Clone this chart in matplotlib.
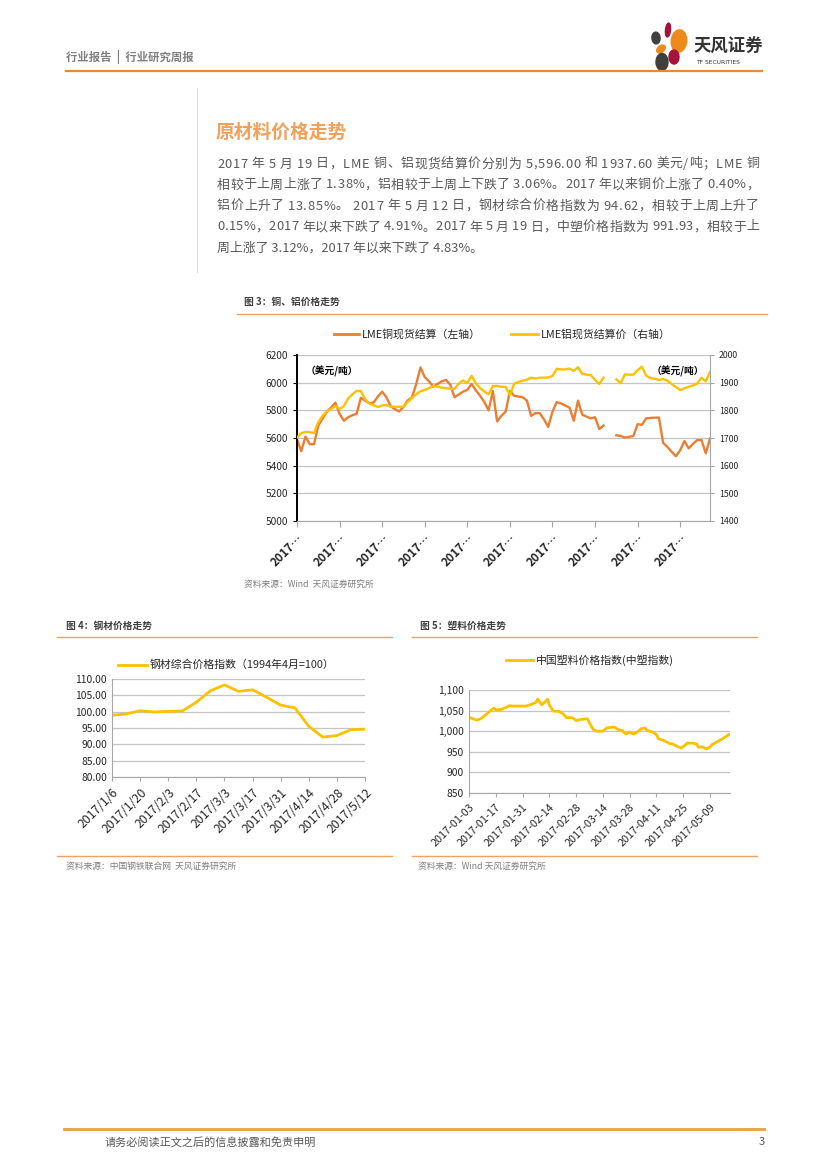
import matplotlib
matplotlib.use('Agg')
import matplotlib.pyplot as plt
import matplotlib.ticker as mticker
from matplotlib.lines import Line2D
from matplotlib.patches import Ellipse
import numpy as np
import pandas as pd

plt.rcParams['font.family'] = ['Noto Sans CJK SC', 'DejaVu Sans']

W, H = 827, 1169

# ---- figure 3: LME copper (left axis) / aluminium (right axis), daily ----
nan = np.nan
copper = [5590, 5505, 5610, 5555, 5555, 5690, 5740, 5790, 5820, 5855,
          5775, 5725, 5750, 5765, 5775, 5890, 5870, 5850, 5857, 5900,
          5935, 5895, 5830, 5808, 5792, 5825, 5872, 5895, 5990, 6110,
          6040, 6010, 5972, 5990, 6010, 6020, 5985, 5895, 5915, 5935,
          5948, 5990, 5945, 5905, 5860, 5800, 5940, 5720, 5760, 5790,
          5940, 5905, 5900, 5895, 5870, 5760, 5780, 5780, 5735, 5680,
          5790, 5860, 5850, 5835, 5820, 5725, 5870, 5768, 5755, 5742,
          5750, 5665, 5690, nan, nan, 5620, 5615, 5603, 5608, 5615,
          5700, 5695, 5742, 5745, 5747, 5748, 5565, 5535, 5500, 5468,
          5512, 5578, 5525, 5558, 5585, 5585, 5490, 5596]
aluminum = [1701, 1718, 1722, 1721, 1718, 1757, 1780, 1795, 1805, 1815,
            1805, 1815, 1843, 1858, 1870, 1870, 1840, 1825, 1818, 1812,
            1818, 1819, 1813, 1813, 1813, 1813, 1830, 1845, 1858, 1869,
            1874, 1880, 1888, 1885, 1882, 1880, 1878, 1878, 1897, 1908,
            1898, 1925, 1898, 1880, 1868, 1858, 1888, 1888, 1885, 1885,
            1855, 1896, 1903, 1907, 1911, 1918, 1915, 1918, 1918, 1919,
            1924, 1950, 1948, 1948, 1951, 1942, 1956, 1932, 1929, 1927,
            1910, 1895, 1918, nan, nan, 1912, 1898, 1930, 1929, 1929,
            1945, 1958, 1925, 1917, 1914, 1910, 1913, 1907, 1895, 1884,
            1873, 1880, 1885, 1890, 1897, 1918, 1905, 1938]
metal_ticklabel = '2017…'

# ---- figure 4: steel composite price index, weekly ----
steel_dates = ['2017/1/6', '2017/1/13', '2017/1/20', '2017/1/27', '2017/2/3',
               '2017/2/10', '2017/2/17', '2017/2/24', '2017/3/3', '2017/3/10',
               '2017/3/17', '2017/3/24', '2017/3/31', '2017/4/7', '2017/4/14',
               '2017/4/21', '2017/4/28', '2017/5/5', '2017/5/12']
steel_index = [98.9, 99.3, 100.3, 99.9, 100.1, 100.2, 102.9, 106.4, 108.2, 106.2,
               106.7, 104.4, 102.0, 101.2, 95.5, 92.2, 92.7, 94.48, 94.62]

# ---- figure 5: China plastics price index ----
plastic_dates = ['2017-01-03', '2017-01-05', '2017-01-07', '2017-01-09', '2017-01-11',
                 '2017-01-12', '2017-01-14', '2017-01-16', '2017-01-17', '2017-01-20',
                 '2017-01-23', '2017-01-24', '2017-01-26', '2017-01-30', '2017-02-02',
                 '2017-02-05', '2017-02-07', '2017-02-08', '2017-02-10', '2017-02-12',
                 '2017-02-13', '2017-02-14', '2017-02-16', '2017-02-19', '2017-02-21',
                 '2017-02-23', '2017-02-26', '2017-02-28', '2017-03-03', '2017-03-06',
                 '2017-03-07', '2017-03-09', '2017-03-11', '2017-03-14', '2017-03-16',
                 '2017-03-20', '2017-03-22', '2017-03-24', '2017-03-26', '2017-03-28',
                 '2017-03-30', '2017-04-01', '2017-04-03', '2017-04-05', '2017-04-06',
                 '2017-04-09', '2017-04-11', '2017-04-12', '2017-04-15', '2017-04-18',
                 '2017-04-19', '2017-04-22', '2017-04-24', '2017-04-26', '2017-04-27',
                 '2017-04-30', '2017-05-02', '2017-05-03', '2017-05-05', '2017-05-07',
                 '2017-05-09', '2017-05-10', '2017-05-13', '2017-05-15', '2017-05-17',
                 '2017-05-19']
plastic_index = [1034, 1030, 1027, 1030, 1037, 1041, 1049, 1056, 1052, 1053,
                 1059, 1062, 1061, 1061, 1061, 1066, 1070, 1078, 1064, 1072,
                 1078, 1064, 1049, 1048, 1043, 1033, 1033, 1026, 1029, 1030,
                 1020, 1004, 1000, 1000, 1008, 1010, 1004, 1002, 993, 998,
                 993, 998, 1006, 1008, 1002, 998, 992, 982, 977, 970,
                 970, 963, 959, 966, 971, 971, 969, 961, 962, 957,
                 961, 967, 975, 980, 986, 992]

body_lines = [
    '2017 年 5 月 19 日，LME 铜、铝现货结算价分别为 5,596.00 和 1937.60 美元/吨；LME 铜',
    '相较于上周上涨了 1.38%，铝相较于上周上下跌了 3.06%。2017 年以来铜价上涨了 0.40%，',
    '铝价上升了 13.85%。 2017 年 5 月 12 日，钢材综合价格指数为 94.62，相较于上周上升了',
    '0.15%，2017 年以来下跌了 4.91%。2017 年 5 月 19 日，中塑价格指数为 991.93，相较于上',
    '周上涨了 3.12%，2017 年以来下跌了 4.83%。',
]

ORANGE = '#ED7D31'
YELLOW = '#FFC000'
RULE = '#F0A35E'
GRID = '#C4C4C4'
AXIS = '#A6A6A6'
TXT = '#404040'


def fx(x):
    return x / W


def fy(y):
    return 1 - y / H


def rule(fig, x0, x1, y, color=RULE, lw=1.0):
    fig.add_artist(Line2D([fx(x0), fx(x1)], [fy(y), fy(y)], color=color, lw=lw,
                          transform=fig.transFigure))


def ptext(fig, x, y, s, **kw):
    kw.setdefault('va', 'center')
    kw.setdefault('ha', 'left')
    return fig.text(fx(x), fy(y), s, **kw)


def justified(fig, x0, x1, y, s, **kw):
    # spread the characters of one line evenly between x0 and x1
    r = fig.canvas.get_renderer()
    probe = fig.text(0, 0, '', **kw)
    pos = [0.0]
    for k in range(1, len(s) + 1):
        probe.set_text(s[:k])
        pos.append(probe.get_window_extent(renderer=r).width)
    probe.remove()
    gap = ((x1 - x0) - pos[-1]) / (len(s) - 1)
    for k, ch in enumerate(s):
        if ch != ' ':
            ptext(fig, x0 + pos[k] + k * gap, y, ch, **kw)


def legend_item(fig, x0, x1, y, color, label):
    fig.add_artist(Line2D([fx(x0), fx(x1)], [fy(y), fy(y)], color=color, lw=2.0,
                          transform=fig.transFigure))
    ptext(fig, x1 + 3, y, label, fontsize=7.8, color='#262626')


def axes_px(fig, left, top, right, bottom):
    return fig.add_axes([fx(left), fy(bottom), (right - left) / W, (bottom - top) / H])


def style_axes(ax):
    for s in ('top', 'right'):
        ax.spines[s].set_visible(False)
    ax.spines['left'].set_color(AXIS)
    ax.spines['bottom'].set_color(AXIS)
    ax.grid(axis='y', color=GRID, lw=0.9)
    ax.set_axisbelow(True)
    ax.tick_params(axis='both', colors=AXIS, length=3, width=0.8, labelcolor='#262626')


fig = plt.figure(figsize=(8.27, 11.69), dpi=100)

# ---- page header ----
ptext(fig, 66, 57, '行业报告  |  行业研究周报', fontsize=8.2, color='#7F7F7F', weight='bold')
rule(fig, 66, 762, 71, color='#E88A30', lw=1.6)
for (cx, cy, w, h, ang, col) in [(668, 30, 5, 14, -10, '#A3133A'),
                                 (679, 41, 15, 23, -40, '#EE8A1C'),
                                 (656, 38, 8, 12, 35, '#3F3F3F'),
                                 (661, 49, 9, 7, 20, '#EE8A1C'),
                                 (662, 62, 12, 17, 10, '#3F3F3F'),
                                 (674, 57, 10, 14, -35, '#A3133A')]:
    fig.add_artist(Ellipse((fx(cx), fy(cy)), w / W, h / H, angle=ang, color=col,
                           transform=fig.transFigure))
ptext(fig, 694, 47, '天风证券', fontsize=12.5, weight='bold', color='#333333')
ptext(fig, 696, 62, 'TF SECURITIES', fontsize=4.3, color='#333333', family='DejaVu Sans')

# ---- section title and text ----
fig.add_artist(Line2D([fx(197), fx(197)], [fy(88), fy(272)], color='#D9D9D9', lw=0.6,
                      transform=fig.transFigure))
ptext(fig, 216, 132, '原材料价格走势', fontsize=13.5, weight='bold', color='#F2A05A')
for k, line in enumerate(body_lines):
    if k < len(body_lines) - 1:
        justified(fig, 217, 759, 164 + 21 * k, line, fontsize=9.3, color='#595959')
    else:
        ptext(fig, 217, 164 + 21 * k, line, fontsize=9.3, color='#595959')

# ---- figure 3 ----
ptext(fig, 244, 302, '图 3：铜、铝价格走势', fontsize=7, weight='bold', color=TXT)
rule(fig, 237, 767, 314)
legend_item(fig, 334, 359, 334, ORANGE, 'LME铜现货结算（左轴）')
legend_item(fig, 511, 538, 334, YELLOW, 'LME铝现货结算价（右轴）')

ax = axes_px(fig, 297, 355, 710, 521)
x = np.arange(len(copper))
ax.plot(x, copper, color=ORANGE, lw=1.7)
ax.set_xlim(0, len(copper) - 1)
ax.set_ylim(5000, 6200)
ax.set_yticks(range(5000, 6201, 200))
style_axes(ax)
ax.spines['left'].set_color('black')
ax.spines['left'].set_linewidth(1.4)
ax.tick_params(axis='y', colors='black', labelsize=7.3, labelcolor='#262626')
ax.set_xticks(range(0, len(copper), 10))
ax.set_xticklabels([metal_ticklabel] * len(range(0, len(copper), 10)),
                   rotation=45, ha='right', rotation_mode='anchor', fontsize=8.5,
                   weight='bold', color='#262626')
ax.tick_params(axis='x', length=4)

ax2 = ax.twinx()
ax2.plot(x, aluminum, color=YELLOW, lw=1.7)
ax2.set_ylim(1400, 2000)
ax2.set_yticks(range(1400, 2001, 100))
for s in ('top', 'left', 'bottom'):
    ax2.spines[s].set_visible(False)
ax2.spines['right'].set_color(AXIS)
ax2.tick_params(axis='y', colors=AXIS, length=3, labelsize=6.3, labelcolor='#262626')
ax.text(0.02, 0.9, '（美元/吨）', transform=ax.transAxes, fontsize=7, weight='bold',
        color='black', va='center')
ax.text(0.985, 0.9, '（美元/吨）', transform=ax.transAxes, fontsize=7, weight='bold',
        color='black', va='center', ha='right')
ptext(fig, 244, 584, '资料来源：Wind  天风证券研究所', fontsize=6.3, color='#7F7F7F')

# ---- figure 4 ----
ptext(fig, 66, 626, '图 4：钢材价格走势', fontsize=7, weight='bold', color=TXT)
rule(fig, 57, 392, 637)
legend_item(fig, 118, 147, 665, YELLOW, '钢材综合价格指数（1994年4月=100）')
ax4 = axes_px(fig, 112, 679, 365, 777)
ax4.plot(range(len(steel_index)), steel_index, color=YELLOW, lw=2.0)
ax4.set_xlim(0, len(steel_index) - 1)
ax4.set_ylim(80, 110)
ax4.set_yticks(range(80, 111, 5))
ax4.yaxis.set_major_formatter(mticker.StrMethodFormatter('{x:.2f}'))
style_axes(ax4)
ax4.tick_params(axis='y', length=0, labelsize=7.4)
ax4.set_xticks(range(0, len(steel_dates), 2))
ax4.set_xticklabels(steel_dates[::2], rotation=45, ha='right', rotation_mode='anchor',
                    fontsize=8.8)
rule(fig, 57, 392, 856)
ptext(fig, 66, 866, '资料来源：中国钢铁联合网  天风证券研究所', fontsize=6.3, color='#7F7F7F')

# ---- figure 5 ----
ptext(fig, 420, 626, '图 5：塑料价格走势', fontsize=7, weight='bold', color=TXT)
rule(fig, 412, 757, 637)
legend_item(fig, 506, 533, 660, YELLOW, '中国塑料价格指数(中塑指数)')
ax5 = axes_px(fig, 469, 690, 730, 793)
pdates = pd.to_datetime(plastic_dates)
ax5.plot(pdates, plastic_index, color=YELLOW, lw=2.0)
ax5.set_xlim(pd.Timestamp('2017-01-03'), pd.Timestamp('2017-05-19 12:00'))
ax5.set_ylim(850, 1100)
ax5.set_yticks(range(850, 1101, 50))
ax5.yaxis.set_major_formatter(mticker.StrMethodFormatter('{x:,.0f}'))
style_axes(ax5)
ax5.tick_params(axis='y', length=0, labelsize=7.4)
xt = pd.date_range('2017-01-03', periods=10, freq='14D')
ax5.set_xticks(xt)
ax5.set_xticklabels([d.strftime('%Y-%m-%d') for d in xt], rotation=45, ha='right',
                    rotation_mode='anchor', fontsize=7.8)
rule(fig, 412, 757, 856)
ptext(fig, 418, 866, '资料来源：Wind 天风证券研究所', fontsize=6.3, color='#7F7F7F')

# ---- footer ----
rule(fig, 64, 764, 1129, color='#E8A040', lw=2.0)
ptext(fig, 105, 1142, '请务必阅读正文之后的信息披露和免责申明', fontsize=8, color='#595959')
ptext(fig, 765, 1142, '3', fontsize=8, color='#595959', ha='right')

fig.savefig('out.png', dpi=100)
